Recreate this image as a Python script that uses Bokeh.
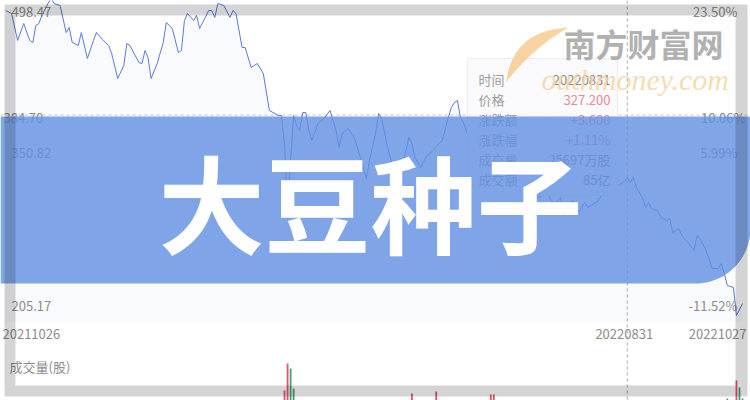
import numpy as np
from bokeh.plotting import figure
from bokeh.models import Range1d, ColumnDataSource, GlobalInlineStyleSheet
from bokeh.core.properties import value
from bokeh.embed import file_html
from bokeh.resources import INLINE

# ---------------- data ----------------
day = [0, 2, 4, 6, 8, 9, 10, 11, 12, 14, 15, 16, 18, 20, 21, 22, 24, 25, 27, 29,
       30, 32, 34, 35, 37, 39, 40, 41, 44, 45, 46, 47, 48, 50, 52, 53, 55, 57, 58, 59,
       60, 62, 63, 64, 67, 68, 69, 70, 72, 74, 75, 76, 78, 79, 81, 82, 83, 85, 87, 90,
       91, 92, 93, 95, 96, 97, 98, 99, 100, 101, 102, 103, 105, 107, 108, 109, 110, 111, 113, 115,
       117, 119, 120, 122, 123, 124, 126, 128, 129, 131, 133, 134, 135, 137, 138, 139, 141, 143, 144, 146,
       147, 148, 149, 150, 151, 153, 156, 158, 161, 163, 166, 168, 170, 173, 176, 178, 180, 181, 183, 184,
       186, 187, 189, 191, 192, 194, 195, 197, 199, 202, 204, 205, 206, 207, 208, 210, 211, 212, 213, 215,
       216, 218, 219, 220, 222, 223, 225, 227, 228, 229, 231, 233, 235, 236, 237, 238, 240, 241, 243]
price = [486.88, 484.02, 458.23, 474.47, 458.23, 456.32, 472.56, 474.47, 482.11, 493.57, 498.47, 493.57, 491.66, 465.87, 470.65, 456.32, 453.46, 465.87, 441.04, 458.23,
         465.87, 459.19, 453.46, 445.81, 421.94, 434.35, 455.37, 453.46, 437.22, 436.27, 448.68, 442.00, 421.94, 436.27, 456.32, 475.42, 469.69, 446.77, 448.68, 477.33,
         484.02, 477.33, 482.11, 469.69, 486.88, 486.88, 480.21, 493.57, 491.66, 480.21, 486.88, 484.02, 451.56, 451.56, 432.45, 434.35, 436.27, 426.72, 391.39, 386.61,
         386.61, 357.96, 300.67, 386.61, 377.06, 372.29, 389.48, 389.48, 372.29, 362.74, 370.38, 378.97, 383.75, 391.39, 381.84, 372.29, 356.06, 369.42, 374.20, 365.61,
         346.50, 326.45, 343.64, 369.42, 388.52, 383.75, 356.06, 334.09, 329.31, 340.77, 365.61, 359.88, 346.50, 336.95, 343.64, 348.41, 353.19, 359.88, 362.74, 384.70,
         394.25, 399.03, 400.93, 384.70, 379.93, 362.74, 343.64, 353.19, 332.18, 336.00, 319.77, 326.45, 313.08, 319.77, 307.35, 314.99, 305.44, 300.67, 308.31, 291.12,
         302.58, 305.44, 293.98, 303.53, 298.76, 302.58, 303.53, 313.08, 310.22, 319.77, 323.60, 327.20, 322.63, 327.41, 317.86, 308.31, 298.76, 303.53, 297.80, 295.89,
         289.21, 286.34, 288.25, 274.88, 278.70, 272.02, 265.33, 257.69, 272.02, 269.15, 257.69, 240.50, 240.50, 245.27, 235.72, 224.27, 222.35, 195.62, 207.08]

vol_day = [92, 93, 94, 95, 134, 142, 160, 161, 238, 241, 242, 243]
vol_val = [1000, 3700, 3200, 1200, 700, 900, 600, 600, 200, 2000, 1300, 200]
vol_up = [True, True, False, False, True, True, True, True, False, True, False, False]

tick_price = [485.90, 350.82, 205.17]
tick_left = ["498.47", "350.82", "205.17"]
tick_right = ["23.50%", "5.99%", "-11.52%"]
cross_price = 384.70
cross_left = "384.70"
cross_right = "10.06%"
cross_day = 205
date_first, date_cross, date_last = "20211026", "20220831", "20221027"
vol_title = "成交量(股)"
tip_labels = ["时间", "价格", "涨跌额", "涨跌幅", "成交量", "成交额"]
tip_values = ["20220831", "327.200", "+3.600", "+1.11%", "25697万股", "85亿"]
tip_colors = ["#8c8c8c", "#e8899e", "#e8899e", "#e8899e", "#8c8c8c", "#8c8c8c"]
title = "大豆种子"
wm_cn = "南方财富网"
wm_en = "outhmoney.com"

FONT = value("Noto Sans CJK SC")
GRAY = "#8c8c8c"

p = figure(width=750, height=400, x_range=Range1d(-1.65, 245.63), y_range=Range1d(114.45, 496.43),
           output_backend="svg", toolbar_location=None, min_border=0,
           x_axis_location=None, y_axis_location=None,
           background_fill_color="white", border_fill_color="white", outline_line_color=None)
p.grid.visible = False
p.extra_x_ranges = {"px": Range1d(0, 750)}
p.extra_y_ranges = {"px": Range1d(400, 0), "vol": Range1d(0, 40000)}
p.stylesheets = [GlobalInlineStyleSheet(css="html,body{margin:0 !important;padding:0;overflow:hidden;}")]

PX = dict(x_range_name="px", y_range_name="px")

src = ColumnDataSource(dict(day=day, price=price))
p.varea(x="day", y1="price", y2=190, source=src, fill_color="#5470c6", fill_alpha=0.035)

# crosshair
p.segment(x0=cross_day, x1=cross_day, y0=0, y1=400, y_range_name="px",
          line_color="#aaaaaa", line_dash="3 3", line_width=1)
p.segment(x0=0, x1=750, y0=114.5, y1=114.5, line_color="#c4c4c4", line_dash="3 3", line_width=1, **PX)

p.line(x="day", y="price", source=src, line_color="#5b7bd5", line_width=1)

vsrc = ColumnDataSource(dict(d=vol_day, v=vol_val,
                             c=["#e0435c" if u else "#2c9a6c" for u in vol_up]))
p.vbar(x="d", top="v", bottom=0, width=0.6, source=vsrc, y_range_name="vol",
       fill_color="c", line_color=None, fill_alpha=0.9)

# axis labels
p.text(x=11, y=tick_price, text=tick_left, x_range_name="px", text_font=FONT,
       text_font_size=value("13px"), text_color=GRAY, text_align="left", text_baseline="middle")
p.text(x=737, y=tick_price, text=tick_right, x_range_name="px", text_font=FONT,
       text_font_size=value("13px"), text_color=GRAY, text_align="right", text_baseline="middle")
p.text(x=3, y=[cross_price], text=[cross_left], x_range_name="px", text_font=FONT,
       text_font_size=value("13px"), text_color=GRAY, text_align="left", text_baseline="middle")
p.text(x=745, y=[cross_price], text=[cross_right], x_range_name="px", text_font=FONT,
       text_font_size=value("13px"), text_color=GRAY, text_align="right", text_baseline="middle")
p.text(x=[0], y=333, text=[date_first], y_range_name="px", x_offset=-3, text_font=FONT,
       text_font_size=value("13px"), text_color=GRAY, text_align="left", text_baseline="middle")
p.text(x=[cross_day], y=333, text=[date_cross], y_range_name="px", x_offset=-3, text_font=FONT,
       text_font_size=value("13px"), text_color=GRAY, text_align="center", text_baseline="middle")
p.text(x=[243], y=333, text=[date_last], y_range_name="px", x_offset=4, text_font=FONT,
       text_font_size=value("13px"), text_color=GRAY, text_align="right", text_baseline="middle")
p.text(x=[9], y=[366], text=[vol_title], text_font=FONT, text_font_size=value("13px"),
       text_color=GRAY, text_align="left", text_baseline="middle", **PX)

# tooltip
p.quad(left=467, right=617, top=58, bottom=195, fill_color="#fafafc", fill_alpha=0.92,
       line_color="#eeeeee", line_width=1, **PX)
tip_y = [79, 99, 119, 139, 159, 179]
p.text(x=478, y=tip_y, text=tip_labels, text_font=FONT, text_font_size=value("13px"),
       text_color="#9a9a9a", text_align="left", text_baseline="middle", **PX)
tsrc = ColumnDataSource(dict(y=tip_y, t=tip_values, c=tip_colors))
p.text(x=610, y="y", text="t", text_color="c", source=tsrc, text_font=FONT,
       text_font_size=value("13px"), text_align="right", text_baseline="middle", **PX)

# watermark (on top of tooltip)
t = np.linspace(0, 1, 30)
P0, C1, P2, C2 = np.array([506, 81]), np.array([512, 30]), np.array([568, 27]), np.array([533, 47])
up = np.outer((1 - t) ** 2, P0) + np.outer(2 * (1 - t) * t, C1) + np.outer(t ** 2, P2)
lo = np.outer((1 - t) ** 2, P2) + np.outer(2 * (1 - t) * t, C2) + np.outer(t ** 2, P0)
sw = np.vstack([up, lo])
p.patch(x=sw[:, 0], y=sw[:, 1], fill_color="#f5c27c", fill_alpha=0.7, line_color=None, **PX)
p.text(x=[643], y=[42], text=[wm_cn], text_font=FONT, text_font_size=value("32px"),
       text_font_style="bold", text_color="#a6a6a6", text_alpha=0.9, text_align="center",
       text_baseline="middle", **PX)
p.text(x=[541], y=[79], text=[wm_en], text_font=value("Liberation Serif"), text_font_size=value("30px"),
       text_font_style="italic", text_color="#f5d6a2", text_alpha=0.85, text_align="left",
       text_baseline="alphabetic", **PX)

# banner
r = 55
ang = np.linspace(0, np.pi / 2, 25)
bx = [0, 750, 750] + list(750 - r + r * np.cos(ang)) + [0]
by = [116, 116, 283 - r] + list(283 - r + r * np.sin(ang)) + [283]
p.patch(x=bx, y=by, fill_color="#6090e2", fill_alpha=0.8, line_color=None, **PX)
p.text(x=[370], y=[199], text=[title], text_font=FONT, text_font_size=value("106px"),
       text_font_style="bold", text_color="white", text_align="center", text_baseline="middle", **PX)

# frame overlay
p.quad(left=[4, 4, 4, 735], right=[747, 747, 15, 747], top=[4, 385, 15, 15], bottom=[15, 396, 385, 385],
       fill_color="black", fill_alpha=0.17, line_color=None, **PX)

open("out.html", "w").write(file_html(p, INLINE))
